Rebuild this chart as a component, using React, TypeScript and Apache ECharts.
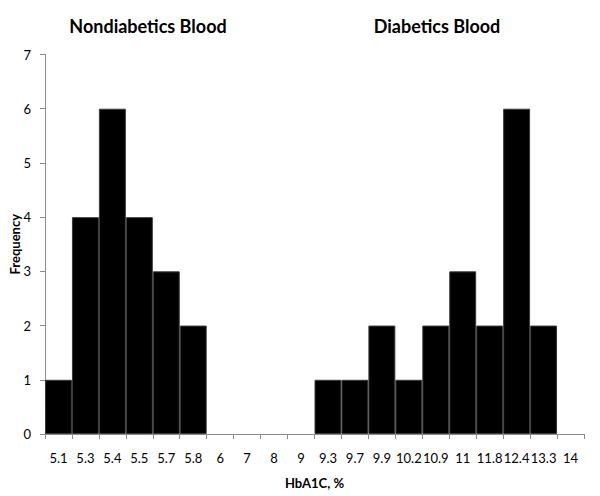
import React, { useEffect, useRef } from "react";
import * as echarts from "echarts";

const categories = ["5.1", "5.3", "5.4", "5.5", "5.7", "5.8", "6", "7", "8", "9", "9.3", "9.7", "9.9", "10.2", "10.9", "11", "11.8", "12.4", "13.3", "14"];
const frequency = [1, 4, 6, 4, 3, 2, 0, 0, 0, 0, 1, 1, 2, 1, 2, 3, 2, 6, 2, 0];
const groupTitles = ["Nondiabetics Blood", "Diabetics Blood"];
const yTicks = [0, 1, 2, 3, 4, 5, 6, 7];

const FONT = "Lato, 'Open Sans', sans-serif";

export default function App() {
  const ref = useRef<HTMLDivElement>(null);
  useEffect(() => {
    if (!ref.current) return;
    const chart = echarts.init(ref.current, undefined, { renderer: "svg" });
    chart.setOption({
      animation: false,
      backgroundColor: "#ffffff",
      title: [
        { text: groupTitles[0], left: 143, top: 12, textAlign: "center", textStyle: { fontFamily: FONT, fontWeight: "bold", fontSize: 18, color: "#000" } },
        { text: groupTitles[1], left: 432, top: 12, textAlign: "center", textStyle: { fontFamily: FONT, fontWeight: "bold", fontSize: 18, color: "#000" } },
      ],
      grid: { left: 45, right: 16, top: 54.5, bottom: 62, containLabel: false, outerBoundsMode: "none" },
      xAxis: {
        type: "category",
        data: categories,
        boundaryGap: true,
        name: "HbA1C, %",
        nameLocation: "middle",
        nameGap: 42,
        nameTextStyle: { fontFamily: FONT, fontWeight: "bold", fontSize: 13, color: "#000" },
        axisLine: { lineStyle: { color: "#8c8c8c", width: 1 } },
        axisTick: { show: true, length: 5, lineStyle: { color: "#8c8c8c" } },
        axisLabel: { interval: 0, fontFamily: FONT, fontSize: 13, color: "#000", margin: 17 },
      },
      yAxis: {
        type: "value",
        min: yTicks[0],
        max: yTicks[yTicks.length - 1],
        interval: 1,
        name: "Frequency",
        nameLocation: "middle",
        nameGap: 24,
        nameMoveOverlap: false,
        nameRotate: 90,
        nameTextStyle: { fontFamily: FONT, fontWeight: "bold", fontSize: 13, color: "#000" },
        axisLine: { show: true, lineStyle: { color: "#8c8c8c", width: 1 } },
        axisTick: { show: true, length: 5, lineStyle: { color: "#8c8c8c" } },
        axisLabel: { fontFamily: FONT, fontSize: 13, color: "#000", margin: 14 },
        splitLine: { show: false },
      },
      series: [
        {
          type: "bar",
          data: frequency.map((v) => (v === 0 ? { value: v, itemStyle: { borderWidth: 0 } } : v)),
          barCategoryGap: "0%",
          itemStyle: { color: "#000000", borderColor: "#3a3a3a", borderWidth: 1 },
        },
      ],
    });
    return () => chart.dispose();
  }, []);
  return <div ref={ref} style={{ width: 600, height: 496, position: "absolute", left: 0, top: 0 }} />;
}
